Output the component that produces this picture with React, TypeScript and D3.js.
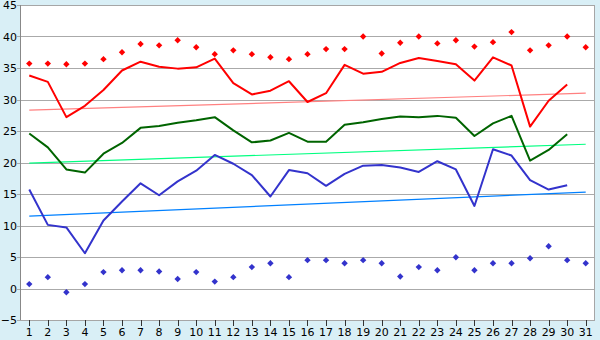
import React, { useEffect, useRef } from 'react';
import * as d3 from 'd3';

const days = d3.range(1, 32);

const maxTemp = [33.8, 32.8, 27.2, 29.0, 31.5, 34.6, 36.0, 35.2, 34.9, 35.1, 36.5, 32.6, 30.8, 31.4, 32.9, 29.6, 31.0, 35.5, 34.1, 34.4, 35.8, 36.6, 36.1, 35.6, 33.0, 36.7, 35.4, 25.7, 29.8, 32.4];
const avgTemp = [24.6, 22.4, 18.9, 18.4, 21.4, 23.1, 25.5, 25.8, 26.3, 26.7, 27.2, 25.1, 23.2, 23.5, 24.7, 23.3, 23.3, 26.0, 26.4, 26.9, 27.3, 27.2, 27.4, 27.1, 24.2, 26.2, 27.4, 20.3, 22.0, 24.5];
const minTemp = [15.7, 10.1, 9.7, 5.6, 10.8, 13.8, 16.7, 14.8, 17.0, 18.7, 21.2, 19.8, 18.0, 14.6, 18.8, 18.3, 16.3, 18.2, 19.5, 19.6, 19.2, 18.5, 20.2, 18.9, 13.1, 22.1, 21.1, 17.2, 15.7, 16.4];

const recordMax = [35.7, 35.7, 35.6, 35.7, 36.4, 37.5, 38.8, 38.6, 39.4, 38.3, 37.2, 37.8, 37.2, 36.7, 36.4, 37.2, 38.0, 38.0, 40.0, 37.3, 39.0, 40.0, 38.9, 39.4, 38.4, 39.1, 40.7, 37.8, 38.6, 40.0, 38.3];
const recordMin = [0.7, 1.8, -0.6, 0.7, 2.6, 2.9, 2.9, 2.7, 1.5, 2.6, 1.1, 1.8, 3.4, 4.0, 1.8, 4.5, 4.5, 4.0, 4.5, 4.0, 1.9, 3.4, 2.9, 4.95, 2.9, 4.0, 4.0, 4.8, 6.7, 4.5, 4.0];

// normals: value on day 1 and day 31
const normalMax = [28.3, 31.0];
const normalAvg = [19.9, 22.9];
const normalMin = [11.5, 15.3];

const yTicks = d3.range(-5, 50, 5);

const App: React.FC = () => {
  const svgRef = useRef<SVGSVGElement>(null);

  useEffect(() => {
    if (!svgRef.current) return;
    const svg = d3.select(svgRef.current);
    svg.selectAll('*').remove();

    const W = 600, H = 340;
    const left = 20, right = 595, top = 5, bottom = 320;

    svg.append('rect').attr('width', W).attr('height', H).attr('fill', '#d9eff6');
    svg.append('rect')
      .attr('x', left).attr('y', top)
      .attr('width', right - left).attr('height', bottom - top)
      .attr('fill', '#ffffff');

    const x = d3.scaleBand<number>().domain(days).range([left, right]);
    const cx = (d: number) => (x(d) as number) + x.bandwidth() / 2;
    const y = d3.scaleLinear().domain([-5, 45]).range([bottom, top]);

    // gridlines
    svg.append('g').selectAll('line').data(yTicks).enter().append('line')
      .attr('x1', left - 3).attr('x2', right)
      .attr('y1', d => Math.round(y(d)) + 0.5).attr('y2', d => Math.round(y(d)) + 0.5)
      .attr('stroke', '#aaaaaa').attr('stroke-width', 1);

    // frame
    svg.append('rect')
      .attr('x', left + 0.5).attr('y', top + 0.5)
      .attr('width', right - left - 1).attr('height', bottom - top)
      .attr('fill', 'none').attr('stroke', '#a6a6a6');
    svg.append('line')
      .attr('x1', left + 0.5).attr('x2', left + 0.5).attr('y1', top).attr('y2', bottom)
      .attr('stroke', '#888888');

    // y labels
    svg.append('g').selectAll('text').data(yTicks).enter().append('text')
      .attr('x', left - 3).attr('y', d => y(d) + 4)
      .attr('text-anchor', 'end')
      .style('font-family', 'DejaVu Sans, Verdana, sans-serif')
      .style('font-size', '11px').attr('fill', '#000')
      .text(d => String(d).replace('-', '\u2212'));

    // x ticks + labels
    const xg = svg.append('g');
    xg.selectAll('line').data(days).enter().append('line')
      .attr('x1', d => Math.round(cx(d)) + 0.5).attr('x2', d => Math.round(cx(d)) + 0.5)
      .attr('y1', bottom).attr('y2', bottom + 6)
      .attr('stroke', '#333');
    xg.selectAll('text').data(days).enter().append('text')
      .attr('x', d => cx(d)).attr('y', 336)
      .attr('text-anchor', 'middle')
      .style('font-family', 'DejaVu Sans, Verdana, sans-serif')
      .style('font-size', '11px').attr('fill', '#000')
      .text(d => d);

    // normal trend lines
    const trends = [
      { v: normalMax, c: '#ff8080' },
      { v: normalAvg, c: '#00ff80' },
      { v: normalMin, c: '#0080ff' },
    ];
    trends.forEach(t => {
      svg.append('line')
        .attr('x1', cx(1)).attr('x2', cx(31))
        .attr('y1', y(t.v[0])).attr('y2', y(t.v[1]))
        .attr('stroke', t.c).attr('stroke-width', 1.2);
    });

    // main lines
    const line = d3.line<number>()
      .x((_, i) => cx(days[i]))
      .y(d => y(d));
    const series = [
      { v: maxTemp, c: '#ff0000' },
      { v: avgTemp, c: '#006400' },
      { v: minTemp, c: '#3333cc' },
    ];
    series.forEach(s => {
      svg.append('path')
        .attr('d', line(s.v))
        .attr('fill', 'none')
        .attr('stroke', s.c)
        .attr('stroke-width', 2)
        .attr('stroke-linejoin', 'round');
    });

    // record markers
    const diamond = d3.symbol().type(d3.symbolDiamond2).size(26);
    const marks = [
      { v: recordMax, c: '#ff0000' },
      { v: recordMin, c: '#3333cc' },
    ];
    marks.forEach(m => {
      svg.append('g').selectAll('path').data(m.v).enter().append('path')
        .attr('d', diamond)
        .attr('transform', (d, i) => `translate(${cx(days[i])},${y(d)})`)
        .attr('fill', m.c);
    });
  }, []);

  return (
    <div style={{ position: 'absolute', left: 0, top: 0 }}>
      <svg ref={svgRef} width={600} height={340} style={{ display: 'block' }} />
    </div>
  );
};

export default App;
